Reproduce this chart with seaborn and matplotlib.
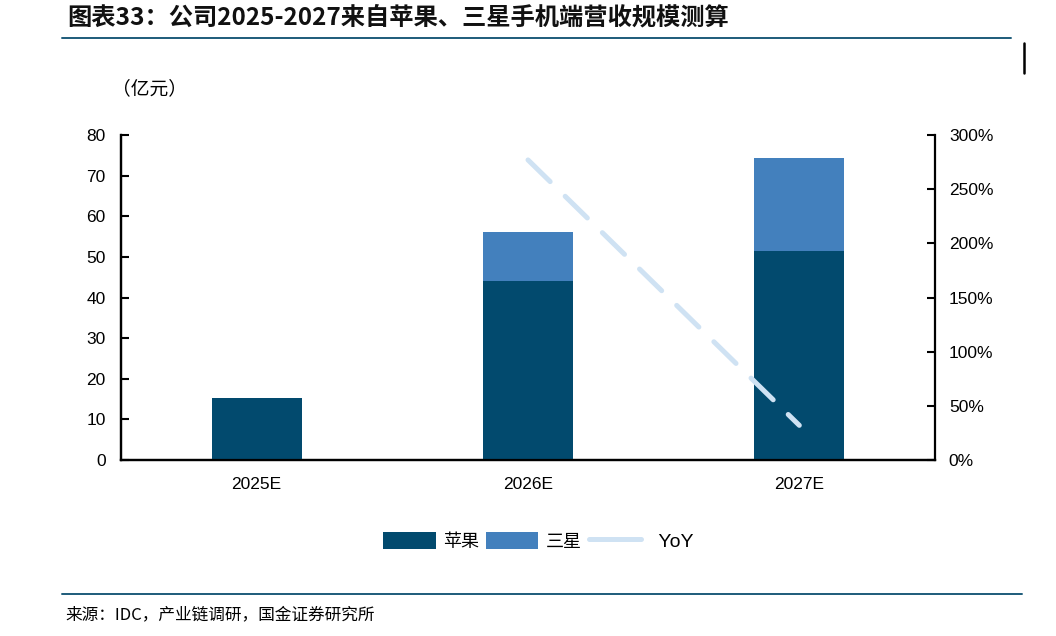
import matplotlib
matplotlib.use("Agg")
import matplotlib.pyplot as plt
import numpy as np
import pandas as pd
import seaborn as sns
from matplotlib.lines import Line2D
from matplotlib.patches import Patch

# data
years = ["2025E", "2026E", "2027E"]
apple = [15.3, 44.1, 51.4]      # 苹果, 亿元
samsung = [0.0, 12.0, 22.9]     # 三星, 亿元
yoy = [np.nan, 2.77, 0.32]      # YoY of total

left_ticks = [0, 10, 20, 30, 40, 50, 60, 70, 80]
right_ticks = [0, 0.5, 1.0, 1.5, 2.0, 2.5, 3.0]

APPLE_C = "#024a6e"
SAMSUNG_C = "#4380bd"
YOY_C = "#cfe2f3"
RULE_C = "#1d5b7a"
CJK = ["Noto Sans CJK SC", "DejaVu Sans"]

sns.set_style("white", {"text.color": "black", "xtick.color": "black",
                        "ytick.color": "black", "axes.labelcolor": "black"})
plt.rcParams["font.family"] = ["Liberation Sans", "Noto Sans CJK SC", "DejaVu Sans"]

df = pd.DataFrame({"year": years, "apple": apple, "samsung": samsung, "yoy": yoy})
df["total"] = df["apple"] + df["samsung"]

fig = plt.figure(figsize=(10.56, 6.36), dpi=100)
ax = fig.add_axes([0.1146, 0.2767, 0.7708, 0.511])

# stacked bars: total first (samsung colour), apple drawn over it
sns.barplot(data=df, x="year", y="total", color=SAMSUNG_C, width=0.333,
            saturation=1, linewidth=0, ax=ax, zorder=2)
sns.barplot(data=df, x="year", y="apple", color=APPLE_C, width=0.333,
            saturation=1, linewidth=0, ax=ax, zorder=3)

ax.set_xlim(-0.5, 2.5)
ax.set_ylim(0, 80)
ax.set_yticks(left_ticks)
ax.set_xlabel("")
ax.set_ylabel("")
ax.tick_params(axis="y", direction="in", length=6, width=1.5, labelsize=12.5, pad=11)
ax.tick_params(axis="x", which="major", length=0, labelsize=12.5, pad=12)
ax.set_xticks([0.5, 1.5], minor=True)
ax.tick_params(axis="x", which="minor", direction="in", length=6, width=1.5)

ax2 = ax.twinx()
sns.lineplot(x=[0, 1, 2], y=df["yoy"], ax=ax2, color=YOY_C, linewidth=3.6,
             linestyle=(0, (6.2, 4.2)), dash_capstyle="round", zorder=4)
ax2.set_ylim(0, 3.0)
ax2.set_yticks(right_ticks)
ax2.set_yticklabels([f"{int(round(t * 100))}%" for t in right_ticks])
ax2.set_ylabel("")
ax2.tick_params(axis="y", direction="in", length=6, width=1.5, labelsize=12.5, pad=10)

for a in (ax, ax2):
    a.spines["top"].set_visible(False)
    for s in ("left", "right", "bottom"):
        a.spines[s].set_linewidth(1.6)
        a.spines[s].set_color("black")
ax.spines["right"].set_visible(False)

# legend
handles = [
    Patch(facecolor=APPLE_C, edgecolor="none", label="苹果"),
    Patch(facecolor=SAMSUNG_C, edgecolor="none", label="三星"),
    Line2D([0], [0], color=YOY_C, linewidth=3.6, solid_capstyle="round", label="  YoY"),
]
leg = fig.legend(handles=handles, loc="center", bbox_to_anchor=(0.51, 0.149), ncol=3,
                 frameon=False, handlelength=2.9, handleheight=1.1,
                 handletextpad=0.4, columnspacing=0.4, prop={"family": CJK, "size": 13})
leg.get_texts()[2].set_fontfamily(["Liberation Sans"])
leg.get_texts()[2].set_fontsize(14)

# title, rules and notes
fig.text(0.064, 0.972, "图表33：公司2025-2027来自苹果、三星手机端营收规模测算",
         family=CJK, fontsize=17.5, fontweight="bold", color="#111111", va="center")
fig.add_artist(Line2D([0.059, 0.957], [0.940, 0.940], color=RULE_C, linewidth=1.4))
fig.add_artist(Line2D([0.970, 0.970], [0.885, 0.933], color="black", linewidth=1.8))
fig.text(0.106, 0.861, "（亿元）", family=CJK, fontsize=13.5, va="center")
fig.add_artist(Line2D([0.059, 0.968], [0.066, 0.066], color=RULE_C, linewidth=1.4))
fig.text(0.062, 0.034, "来源：IDC，产业链调研，国金证券研究所", family=CJK,
         fontsize=12, va="center")

fig.savefig("out.png", dpi=100)
